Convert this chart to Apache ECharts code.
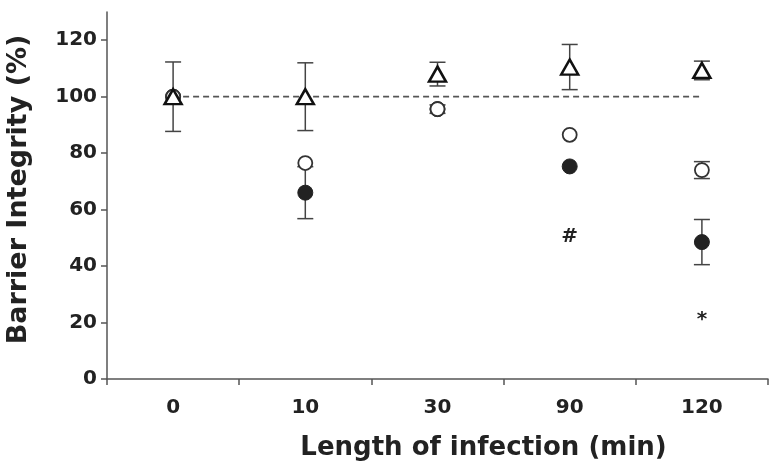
<!DOCTYPE html>
<html>
<head>
<meta charset="utf-8">
<script src="https://cdn.jsdelivr.net/npm/echarts@6/dist/echarts.min.js"></script>
<style>html,body{margin:0;padding:0;background:#fff}#main{width:779px;height:472px}</style>
</head>
<body>
<div id="main"></div>
<script>
// categories and values
var categories = ['0', '10', '30', '90', '120'];
var triMean = [100, 100, 108, 110.5, 109.3];
var triErr = [12.3, 12, 4.2, 8, 3.3];
var openMean = [100, 76.5, 95.6, 86.5, 74];
var openErr = [0, 0, 1.5, 0, 3];
var filledMean = [100, 66, 95.6, 75.3, 48.5];
var filledErr = [0, 9.2, 0, 0, 8];
var refLine = [100, 100, 100, 100, 100];
var yTicks = [0, 20, 40, 60, 80, 100, 120];
var marks = [['90', 50.5, '#'], ['120', 21, '*']];

var font = 'DejaVu Sans';

// [index, low, high]
function errData(mean, err) {
    var out = [];
    mean.forEach(function(m, i) {
        if (err[i] > 0) out.push([i, m - err[i], m + err[i]]);
    });
    return out;
}

function errSeries(data) {
    return {
        type: 'custom',
        z: 1,
        silent: true,
        data: data,
        renderItem: function(params, api) {
            var lo = api.coord([api.value(0), api.value(1)]);
            var hi = api.coord([api.value(0), api.value(2)]);
            var w = 8;
            var style = { stroke: '#444', lineWidth: 1.5 };
            return {
                type: 'group',
                children: [
                    { type: 'line', shape: { x1: hi[0], y1: hi[1], x2: lo[0], y2: lo[1] }, style: style },
                    { type: 'line', shape: { x1: hi[0] - w, y1: hi[1], x2: hi[0] + w, y2: hi[1] }, style: style },
                    { type: 'line', shape: { x1: lo[0] - w, y1: lo[1], x2: lo[0] + w, y2: lo[1] }, style: style }
                ]
            };
        }
    };
}

var chart = echarts.init(document.getElementById('main'));
chart.setOption({
    animation: false,
    grid: { left: 107, right: 11, top: 12, bottom: 93, outerBoundsMode: 'none', containLabel: false },
    xAxis: {
        type: 'category',
        data: categories,
        boundaryGap: true,
        name: 'Length of infection (min)',
        nameLocation: 'middle',
        nameGap: 56,
        nameTextStyle: { fontFamily: font, fontWeight: 'bold', fontSize: 26, color: '#222', padding: [0, 0, 0, 92] },
        axisLine: { lineStyle: { color: '#555', width: 1.5 } },
        axisTick: { show: true, length: 6, lineStyle: { color: '#555', width: 1.5 } },
        axisLabel: { margin: 19, fontFamily: font, fontWeight: 'bold', fontSize: 20, color: '#222' },
        splitLine: { show: false }
    },
    yAxis: {
        type: 'value',
        min: 0,
        max: 130,
        interval: 10,
        name: 'Barrier Integrity (%)',
        nameLocation: 'middle',
        nameGap: 75,
        nameTextStyle: { fontFamily: font, fontWeight: 'bold', fontSize: 27, color: '#222', padding: [0, 0, 0, 12] },
        axisLine: { show: true, lineStyle: { color: '#555', width: 1.5 } },
        axisTick: { show: true, length: 6, customValues: yTicks, lineStyle: { color: '#555', width: 1.5 } },
        axisLabel: { margin: 10, customValues: yTicks, fontFamily: font, fontWeight: 'bold', fontSize: 20, color: '#222' },
        splitLine: { show: false }
    },
    series: [
        {
            type: 'line',
            data: refLine,
            symbol: 'none',
            z: 0,
            silent: true,
            lineStyle: { color: '#555', width: 1.8, type: [6, 4] }
        },
        errSeries(errData(filledMean, filledErr)),
        errSeries(errData(openMean, openErr)),
        errSeries(errData(triMean, triErr)),
        {
            type: 'scatter',
            data: filledMean,
            z: 3,
            symbol: 'circle',
            symbolSize: 15,
            itemStyle: { color: '#222', borderColor: '#222', borderWidth: 1, opacity: 1 }
        },
        {
            type: 'scatter',
            data: openMean,
            z: 4,
            symbol: 'circle',
            symbolSize: 14,
            itemStyle: { color: '#fff', borderColor: '#333', borderWidth: 1.8, opacity: 1 }
        },
        {
            type: 'scatter',
            data: triMean,
            z: 5,
            symbol: 'triangle',
            symbolSize: [17, 15],
            itemStyle: { color: '#fff', borderColor: '#111', borderWidth: 2.5, opacity: 1 }
        },
        {
            type: 'scatter',
            data: marks,
            z: 6,
            symbolSize: 1,
            itemStyle: { color: 'rgba(0,0,0,0)', opacity: 1 },
            label: {
                show: true,
                position: 'inside',
                formatter: function(p) { return p.data[2]; },
                fontFamily: font,
                fontWeight: 'bold',
                fontSize: 20,
                color: '#222'
            }
        }
    ]
});
</script>
</body>
</html>
